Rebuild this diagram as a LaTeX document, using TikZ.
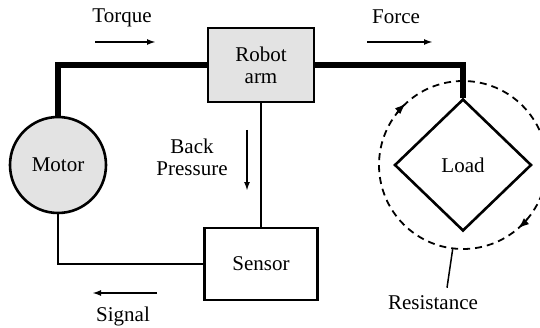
\documentclass[tikz,border=0pt]{standalone}
\usepackage{fontspec}
\setmainfont{Liberation Serif}
\usetikzlibrary{arrows.meta,positioning,calc,shapes.geometric}

\begin{document}
\begin{tikzpicture}[
  x=1pt, y=1pt,
  font=\fontsize{21}{22}\selectfont,
  >={Latex[length=9pt,width=6pt]},
  block/.style={draw, line width=2.6pt, align=center, inner sep=0pt},
  shaft/.style={line width=5.5pt},
  wire/.style={line width=2.8pt},
  flow/.style={->, line width=1.8pt},
  turn/.style={-{Latex[length=11pt,width=8pt]}, line width=1.8pt},
  note/.style={align=center, inner sep=0pt}
]
\useasboundingbox (0,0) rectangle (540,327);

% Main parts
\node[block, fill=gray!22, minimum width=106pt, minimum height=74pt]
  (robot) at (261,262) {Robot\\arm};
\node[block, circle, fill=gray!22, minimum size=96pt] (motor) at (58,162) {Motor};
\node[block, diamond, minimum width=137pt, minimum height=132pt]
  (load) at (463,162) {Load};
\node[block, minimum width=113pt, minimum height=72pt] (sensor) at (261,63) {Sensor};

% Mechanical path
\draw[shaft] (motor.north) |- (robot.west);
\draw[shaft] (robot.east) -| (load.north);

% Feedback path
\draw[wire] (robot.south) -- (sensor.north);
\draw[wire] (motor.south) |- (sensor.west);

% Resistance of the load
\node[circle, draw, dashed, line width=1.8pt, dash pattern=on 7pt off 5pt,
      minimum size=168pt] (resist) at (load.center) {};
\draw[turn] ($(resist.center)+(142:84pt)$) arc[start angle=142, end angle=133, radius=84pt];
\draw[turn] ($(resist.center)+(-40:84pt)$) arc[start angle=-40, end angle=-49, radius=84pt];
\node[note] (resistlbl) at (433,24) {Resistance};
\draw[line width=1.5pt] (resist.-97) -- ($(resistlbl.north)+(14,8)$);

% Flow labels
\node[note] (torque) at (122,309) {Torque};
\coordinate (tq1) at (95,285);
\coordinate (tq2) at (156,285);
\draw[flow] (tq1) -- (tq2);

\node[note] (force) at (396,310) {Force};
\coordinate (fc1) at (367,285);
\coordinate (fc2) at (433,285);
\draw[flow] (fc1) -- (fc2);

\node[note] (back) at (192,170) {Back\\Pressure};
\coordinate (bp1) at (247,197);
\coordinate (bp2) at (247,136);
\draw[flow] (bp1) -- (bp2);

\node[note] (signal) at (123,11) {Signal};
\coordinate (sg1) at (157,34);
\coordinate (sg2) at (92,34);
\draw[flow] (sg1) -- (sg2);

\end{tikzpicture}
\end{document}
